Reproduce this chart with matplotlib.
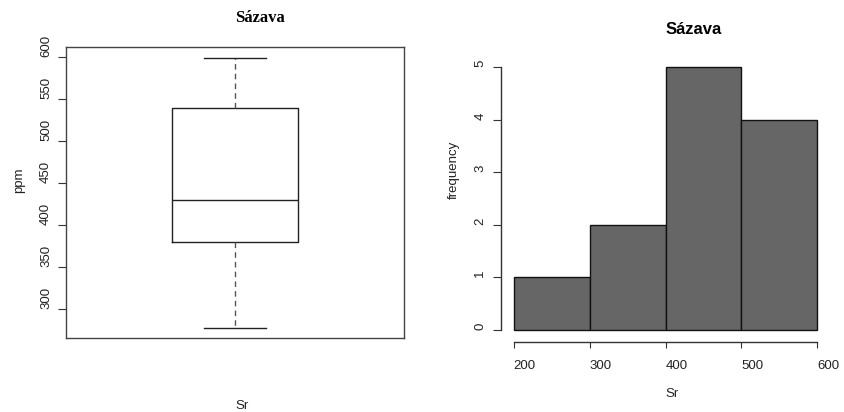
import matplotlib
matplotlib.use("Agg")
import matplotlib.pyplot as plt

# Boxplot statistics (ppm) of Sr, Sázava
box_whislo = 277
box_q1 = 379
box_med = 430
box_q3 = 539
box_whishi = 599

# Histogram
bin_edges = [200, 300, 400, 500, 600]
counts = [1, 2, 5, 4]

box_yticks = [300, 350, 400, 450, 500, 550, 600]
hist_yticks = [0, 1, 2, 3, 4, 5]
hist_xticks = [200, 300, 400, 500, 600]

W, H = 844, 412
fig = plt.figure(figsize=(W / 100, H / 100), dpi=100)
plt.rcParams['font.family'] = ['Liberation Sans', 'DejaVu Sans']

def fx(px):
    return px / W

def fy(py):
    return 1 - py / H

# ---------------- Left: boxplot ----------------
axL = fig.add_axes([fx(66), fy(338), fx(404 - 66), (338 - 47) / H])
stats = [dict(whislo=box_whislo, q1=box_q1, med=box_med, q3=box_q3,
              whishi=box_whishi, fliers=[], label='')]
axL.bxp(stats, positions=[1], widths=0.373, showfliers=False,
        boxprops=dict(color='#222222', linewidth=1.0),
        medianprops=dict(color='#222222', linewidth=1.0),
        whiskerprops=dict(color='#555555', linewidth=1.0, linestyle=(0, (4, 3))),
        capprops=dict(color='#222222', linewidth=1.0),
        capwidths=0.183)
axL.set_xlim(0.5, 1.5)
axL.set_ylim(265.1, 611.9)
axL.set_xticks([])
axL.set_yticks(box_yticks)
axL.set_yticklabels([str(v) for v in box_yticks], rotation=90, va='bottom',
                    ha='right', fontsize=9.5, color='#222222')
axL.tick_params(axis='y', length=6, width=0.8, pad=4, color='#333333')
for s in axL.spines.values():
    s.set_color('#444444')
    s.set_linewidth(1.0)

fig.text(fx(235), fy(18), 'Sázava', ha='left', va='center', fontsize=12,
         fontweight='bold', family=['Liberation Serif', 'DejaVu Serif'])
fig.text(fx(19), fy(193), 'ppm', rotation=90, ha='center', va='bottom',
         fontsize=9.5, color='#222222')
fig.text(fx(235), fy(406), 'Sr', ha='left', va='center', fontsize=9.5,
         color='#222222')

# ---------------- Right: histogram ----------------
axR = fig.add_axes([fx(490), fy(350), fx(830 - 490), (350 - 50) / H])
widths = [bin_edges[i + 1] - bin_edges[i] for i in range(len(counts))]
axR.bar(bin_edges[:-1], counts, width=widths, align='edge',
        color='#666666', edgecolor='#111111', linewidth=1.0)
axR.set_xlim(168.8, 616.7)
axR.set_ylim(-0.381, 5.329)
axR.spines['top'].set_visible(False)
axR.spines['right'].set_visible(False)
axR.spines['left'].set_position(('data', 183.3))
axR.spines['left'].set_bounds(0, 5)
axR.spines['bottom'].set_position(('data', -0.223))
axR.spines['bottom'].set_bounds(200, 600)
for s in ('left', 'bottom'):
    axR.spines[s].set_color('#333333')
    axR.spines[s].set_linewidth(1.0)
axR.set_yticks(hist_yticks)
axR.set_yticklabels([str(v) for v in hist_yticks], rotation=90, va='bottom',
                    ha='right', fontsize=9.5, color='#222222')
axR.set_xticks(hist_xticks)
axR.set_xticklabels([str(v) for v in hist_xticks], ha='left', va='top',
                    fontsize=9.5, color='#222222')
axR.tick_params(axis='y', length=5.5, width=0.8, pad=5, color='#333333')
axR.tick_params(axis='x', length=4.5, width=0.8, pad=9, color='#333333')

fig.text(fx(665.5), fy(29), 'Sázava', ha='left', va='center', fontsize=12,
         fontweight='bold')
fig.text(fx(454), fy(199), 'frequency', rotation=90, ha='center', va='bottom',
         fontsize=9.5, color='#222222')
fig.text(fx(665.5), fy(394), 'Sr', ha='left', va='center', fontsize=9.5,
         color='#222222')

fig.savefig('out.png', dpi=100)
